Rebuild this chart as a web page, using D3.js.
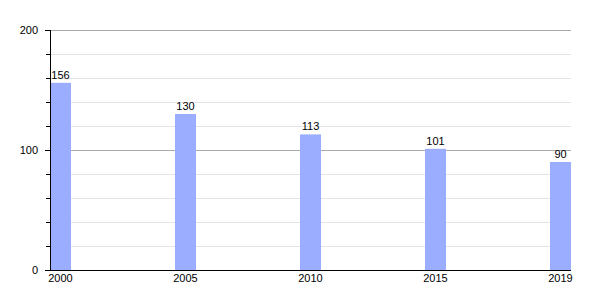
<!DOCTYPE html>
<html>
<head>
<meta charset="utf-8">
<script src="https://cdn.jsdelivr.net/npm/d3@7"></script>
<style>
  body { margin: 0; background: #fff; }
  svg text { font-family: "Liberation Sans", Arial, sans-serif; font-size: 11px; fill: #000; }
</style>
</head>
<body>
<svg id="chart" width="600" height="300"></svg>
<script>
// Chart data
const years = ["2000", "2005", "2010", "2015", "2019"];
const values = [156, 130, 113, 101, 90];
const majorTicks = [0, 100, 200];
const minorTicks = [20, 40, 60, 80, 120, 140, 160, 180];

const svg = d3.select("#chart");
const plotLeft = 50, plotRight = 571, plotTop = 30, plotBottom = 270;
const barWidth = 21;

const x = d3.scalePoint().domain(years).range([plotLeft, plotRight - barWidth]);
const y = d3.scaleLinear().domain([0, 200]).range([plotBottom, plotTop]);

// Minor gridlines
svg.selectAll(".minor")
  .data(minorTicks)
  .enter().append("line")
  .attr("x1", plotLeft).attr("x2", plotRight)
  .attr("y1", d => y(d) + 0.5).attr("y2", d => y(d) + 0.5)
  .attr("stroke", "#e4e4e4");

// Major gridlines
svg.selectAll(".major")
  .data(majorTicks.filter(d => d > 0))
  .enter().append("line")
  .attr("x1", plotLeft).attr("x2", plotRight)
  .attr("y1", d => y(d) + 0.5).attr("y2", d => y(d) + 0.5)
  .attr("stroke", "#aaa");

// Bars
svg.selectAll(".bar")
  .data(values)
  .enter().append("rect")
  .attr("x", (d, i) => x(years[i]))
  .attr("y", d => y(d))
  .attr("width", barWidth)
  .attr("height", d => plotBottom - y(d))
  .attr("fill", "#9badff");

// Value labels
svg.selectAll(".val")
  .data(values)
  .enter().append("text")
  .attr("x", (d, i) => x(years[i]) + barWidth / 2)
  .attr("y", d => y(d) - 4)
  .attr("text-anchor", "middle")
  .text(d => d);

// Y axis line and ticks
svg.append("line")
  .attr("x1", plotLeft + 0.5).attr("x2", plotLeft + 0.5)
  .attr("y1", plotTop).attr("y2", plotBottom)
  .attr("stroke", "#000");

svg.selectAll(".mtick")
  .data(minorTicks)
  .enter().append("line")
  .attr("x1", plotLeft - 4).attr("x2", plotLeft)
  .attr("y1", d => y(d) + 0.5).attr("y2", d => y(d) + 0.5)
  .attr("stroke", "#000");

svg.selectAll(".Mtick")
  .data(majorTicks)
  .enter().append("line")
  .attr("x1", plotLeft - 5).attr("x2", plotLeft)
  .attr("y1", d => y(d) + 0.5).attr("y2", d => y(d) + 0.5)
  .attr("stroke", "#000");

svg.selectAll(".ylab")
  .data(majorTicks)
  .enter().append("text")
  .attr("x", plotLeft - 12)
  .attr("y", d => y(d) + 4)
  .attr("text-anchor", "end")
  .text(d => d);

// X axis line and labels
svg.append("line")
  .attr("x1", plotLeft - 5).attr("x2", plotRight)
  .attr("y1", plotBottom + 0.5).attr("y2", plotBottom + 0.5)
  .attr("stroke", "#000");

svg.selectAll(".xlab")
  .data(years)
  .enter().append("text")
  .attr("x", d => x(d) + barWidth / 2)
  .attr("y", plotBottom + 12)
  .attr("text-anchor", "middle")
  .text(d => d);
</script>
</body>
</html>
